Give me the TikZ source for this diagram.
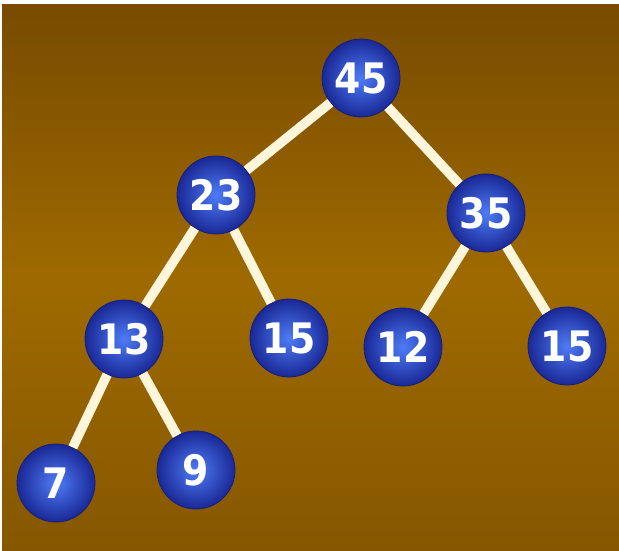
\documentclass[tikz,border=0pt]{standalone}
\usepackage{fontspec}
\setmainfont{DejaVu Sans}
\newfontfamily\ballfont{DejaVu Sans Condensed}
\definecolor{bgtop}{RGB}{120,75,0}
\definecolor{bgmid}{RGB}{158,106,0}
\definecolor{bgbot}{RGB}{134,87,0}
\definecolor{ballin}{RGB}{78,124,246}
\definecolor{ballout}{RGB}{26,40,150}
\definecolor{edgecol}{RGB}{255,246,220}
\tikzset{
  ball/.style={circle, minimum size=78pt, inner sep=0pt,
    inner color=ballin, outer color=ballout, draw=ballout!80!black, line width=0.8pt,
    text=white, font=\ballfont\bfseries\fontsize{42}{42}\selectfont},
  link/.style={draw=edgecol, line width=9.5pt}
}
\begin{document}
\begin{tikzpicture}[x=1pt,y=-1pt]
\useasboundingbox (0,0) rectangle (619,551);
\fill[white] (0,0) rectangle (619,551);
\shade[top color=bgtop, bottom color=bgbot, middle color=bgmid] (2,5) rectangle (619,551);
\node[ball] (n45) at (361,78) {45};
\node[ball] (n23) at (216,195) {23};
\node[ball] (n35) at (486,213) {35};
\node[ball] (n13) at (124,339) {13};
\node[ball] (n15a) at (289,338) {15};
\node[ball] (n12) at (403,347) {12};
\node[ball] (n15b) at (567,346) {15};
\node[ball] (n7) at (56,483) {7};
\node[ball] (n9) at (196,470) {9};
\draw[link] (n45) -- (n23);
\draw[link] (n45) -- (n35);
\draw[link] (n23) -- (n13);
\draw[link] (n23) -- (n15a);
\draw[link] (n35) -- (n12);
\draw[link] (n35) -- (n15b);
\draw[link] (n13) -- (n7);
\draw[link] (n13) -- (n9);
\end{tikzpicture}
\end{document}
